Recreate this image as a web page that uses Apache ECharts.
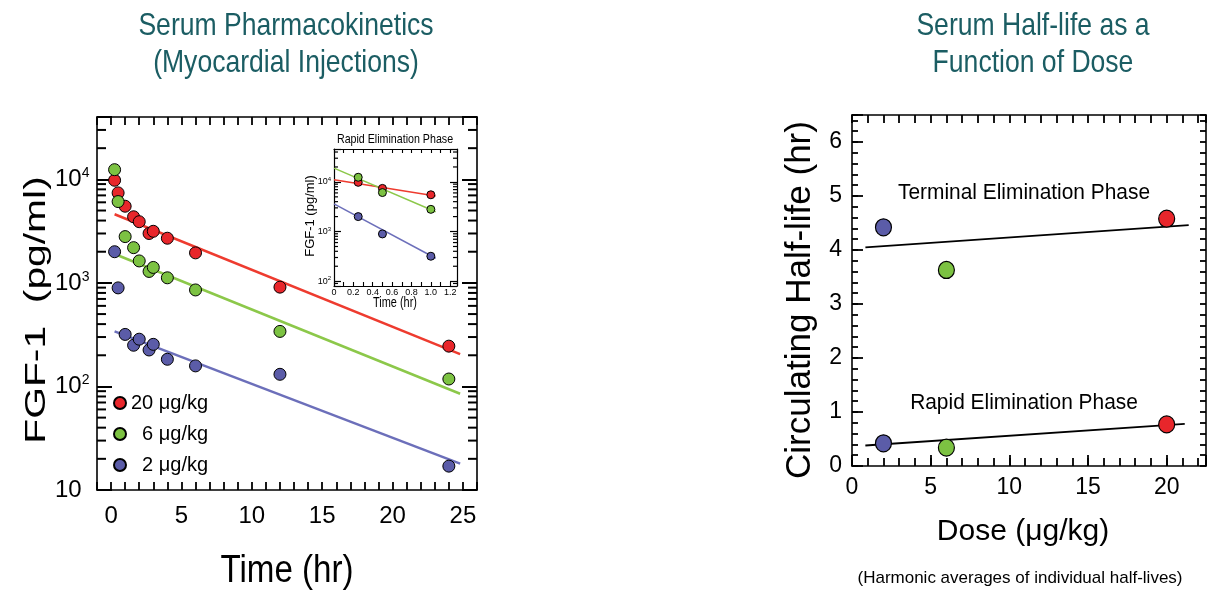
<!DOCTYPE html>
<html>
<head>
<meta charset="utf-8">
<title>FGF-1 serum pharmacokinetics</title>
<script src="https://cdn.jsdelivr.net/npm/echarts@6/dist/echarts.min.js"></script>
<style>
html, body { margin: 0; padding: 0; background: #fff; }
#chart { width: 1217px; height: 590px; }
</style>
</head>
<body>
<div id="chart"></div>
<script>
// sampling times (hr) and serum FGF-1 (pg/ml) for each dose
var times = [0.25, 0.5, 1, 1.6, 2, 2.7, 3, 4, 6, 12, 24];
var fgf20 = [9800, 7400, 5500, 4350, 3900, 3000, 3150, 2700, 1950, 910, 245];
var fgf6 = [12400, 6100, 2800, 2190, 1630, 1290, 1410, 1120, 855, 340, 118];
var fgf2 = [2000, 895, 318, 250, 286, 225, 255, 183, 158, 131, 17];
// terminal phase fits [t, pg/ml]
var fit20 = [[0.25, 4600], [24.8, 205]];
var fit6 = [[0.25, 1900], [24.8, 85]];
var fit2 = [[0.25, 340], [24.8, 18]];
// inset: rapid phase fits, first samples only
var insetCount = 3;
var rapidFit20 = [[0, 11000], [1.05, 5200]];
var rapidFit6 = [[0, 18900], [1.05, 2500]];
var rapidFit2 = [[0, 3600], [1.05, 290]];

// half-life vs dose
var doses = [2, 6, 20];
var terminalHalfLife = [4.42, 3.63, 4.58];
var rapidHalfLife = [0.42, 0.34, 0.77];
var terminalFit = [[0.85, 4.05], [21.4, 4.46]];
var rapidFit = [[0.85, 0.38], [21.15, 0.78]];

var doseNames = ['20 μg/kg', '6 μg/kg', '2 μg/kg'];

var FONT = '"Liberation Sans", Arial, sans-serif';
var TEAL = '#1b5d63';
var RED = '#e8262b', GREEN = '#7cc242', BLUE = '#5b5ca8';
var RED_L = '#ee3b2f', GREEN_L = '#8cc84a', BLUE_L = '#6c6fba';
var doseColors = [BLUE, GREEN, RED]; // for doses 2, 6, 20

function pairs(xs, ys) {
    return xs.map(function (x, i) { return [x, ys[i]]; });
}
// 2..9 x 10^n between min and max (log minor ticks)
function logMinor(min, max) {
    var out = [];
    for (var d = 1; d <= 1e5; d *= 10) {
        for (var m = 2; m <= 9; m++) {
            if (m * d > min && m * d < max) out.push(m * d);
        }
    }
    return out;
}
function isPow10(v) {
    var l = Math.log(v) / Math.LN10;
    return Math.abs(l - Math.round(l)) < 1e-6;
}
function powLabel(v) {
    if (!isPow10(v)) return '';
    var e = Math.round(Math.log(v) / Math.LN10);
    return e === 1 ? '{b|10}' : '{b|10}{s|' + e + '}';
}

var lineBlack = { color: '#000', width: 1.6 };
var tickBlack = { color: '#000', width: 1.8 };

function boxAxis(extra) {
    // plain axis used for the box sides (ticks only)
    var a = {
        type: 'value',
        axisLine: { onZero: false, lineStyle: lineBlack },
        axisTick: { inside: true, length: 8, lineStyle: tickBlack },
        axisLabel: { show: false },
        splitLine: { show: false }
    };
    for (var k in extra) a[k] = extra[k];
    return a;
}

function fitLine(name, xi, yi, data, color, w) {
    return {
        name: name, type: 'line', xAxisIndex: xi, yAxisIndex: yi, data: data,
        symbol: 'none', z: 2, silent: true,
        lineStyle: { color: color, width: w }
    };
}
function dots(name, xi, yi, data, color, size) {
    return {
        name: name, type: 'scatter', xAxisIndex: xi, yAxisIndex: yi, data: data,
        symbolSize: size, z: 3,
        itemStyle: { color: color, borderColor: '#000', borderWidth: 1, opacity: 1 }
    };
}
// log minor ticks drawn as thin rects sitting on a box side
function sideTicks(name, xi, yi, x, values, len, w, dir) {
    return {
        name: name, type: 'scatter', xAxisIndex: xi, yAxisIndex: yi,
        data: values.map(function (v) { return [x, v]; }),
        symbol: 'rect', symbolSize: [len, w], symbolOffset: [dir * len / 2, 0],
        silent: true, clip: false, z: 4,
        itemStyle: { color: '#000', opacity: 1 },
        emphasis: { disabled: true }
    };
}

function gtext(text, x, y, size, opts) {
    opts = opts || {};
    return {
        type: 'text', x: x, y: y,
        rotation: opts.rotation || 0,
        scaleX: opts.scaleX || 1,
        silent: true,
        style: {
            text: text,
            fontSize: size,
            fontFamily: FONT,
            fill: opts.color || '#000',
            align: 'center',
            verticalAlign: 'middle'
        }
    };
}

var chart = echarts.init(document.getElementById('chart'));

var mainMinor = logMinor(10, 40000);
var insetMinor = logMinor(80, 46000);

var option = {
    animation: false,
    backgroundColor: '#fff',
    grid: [
        { left: 97, top: 117, width: 380, height: 373 },
        { left: 334, top: 149, width: 123, height: 137 },
        { left: 852, top: 115, width: 354, height: 351 }
    ],
    legend: {
        data: doseNames,
        orient: 'vertical',
        left: 108,
        top: 388,
        icon: 'circle',
        itemWidth: 12,
        itemHeight: 12,
        itemGap: 11,
        selectedMode: false,
        textStyle: { fontSize: 20, fontFamily: FONT, color: '#000' },
        formatter: function (name) {
            return name.length < 8 ? '\u2007' + name : name;
        }
    },
    xAxis: [
        // main time axis
        boxAxis({
            gridIndex: 0, min: -1, max: 26, interval: 1, position: 'bottom',
            axisLabel: {
                show: true, margin: 14, fontSize: 24, fontFamily: FONT, color: '#000',
                formatter: function (v) { return v % 5 === 0 ? String(v) : ''; }
            }
        }),
        boxAxis({ gridIndex: 0, min: -1, max: 26, interval: 1, position: 'top' }),
        // inset time axis
        boxAxis({
            gridIndex: 1, min: 0, max: 1.27, interval: 0.1, position: 'bottom',
            axisLine: { onZero: false, lineStyle: { color: '#000', width: 1.2 } },
            axisTick: { inside: true, length: 4, lineStyle: { color: '#000', width: 1.1 } },
            axisLabel: {
                show: true, margin: 2, fontSize: 9, fontFamily: FONT, color: '#000',
                formatter: function (v) {
                    var r = Math.round(v * 10);
                    if (Math.abs(v * 10 - r) > 1e-6 || r % 2) return '';
                    return r === 0 ? '0' : (r / 10).toFixed(1);
                }
            }
        }),
        boxAxis({
            gridIndex: 1, min: 0, max: 1.27, interval: 0.1, position: 'top',
            axisLine: { onZero: false, lineStyle: { color: '#000', width: 1.2 } },
            axisTick: { inside: true, length: 4, lineStyle: { color: '#000', width: 1.1 } }
        }),
        // dose axis
        boxAxis({
            gridIndex: 2, min: 0, max: 22.5, interval: 5, position: 'bottom',
            axisTick: { inside: true, length: 11, lineStyle: tickBlack },
            axisLabel: {
                show: true, margin: 10, fontSize: 23, fontFamily: FONT, color: '#000',
                formatter: function (v) { return v % 5 === 0 ? String(v) : ''; }
            }
        }),
        boxAxis({
            gridIndex: 2, min: 0, max: 22.5, interval: 1, position: 'bottom',
            axisLine: { show: false }
        }),
        boxAxis({ gridIndex: 2, min: 0, max: 22.5, interval: 1, position: 'top' })
    ],
    yAxis: [
        // main concentration axis (log)
        boxAxis({
            gridIndex: 0, type: 'log', logBase: 10, min: 10, max: 40000, position: 'left',
            axisTick: { inside: true, length: 15, lineStyle: { color: '#000', width: 2 } },
            axisLabel: {
                show: true, margin: 42, align: 'left', color: '#000',
                formatter: powLabel,
                rich: {
                    b: { fontSize: 24, fontFamily: FONT, color: '#000' },
                    s: { fontSize: 14, fontFamily: FONT, color: '#000', padding: [0, 0, 12, 0] }
                }
            }
        }),
        boxAxis({
            gridIndex: 0, type: 'log', logBase: 10, min: 10, max: 40000, position: 'right',
            axisTick: { inside: true, length: 15, lineStyle: { color: '#000', width: 2 } }
        }),
        // inset concentration axis (log)
        boxAxis({
            gridIndex: 1, type: 'log', logBase: 10, min: 80, max: 46000, position: 'left',
            axisLine: { onZero: false, lineStyle: { color: '#000', width: 1.2 } },
            axisTick: { inside: true, length: 7, lineStyle: { color: '#000', width: 1.2 } },
            axisLabel: {
                show: true, margin: 3, color: '#000',
                formatter: powLabel,
                rich: {
                    b: { fontSize: 9, fontFamily: FONT, color: '#000' },
                    s: { fontSize: 6, fontFamily: FONT, color: '#000', padding: [0, 0, 5, 0] }
                }
            }
        }),
        boxAxis({
            gridIndex: 1, type: 'log', logBase: 10, min: 80, max: 46000, position: 'right',
            axisLine: { onZero: false, lineStyle: { color: '#000', width: 1.2 } },
            axisTick: { inside: true, length: 7, lineStyle: { color: '#000', width: 1.2 } }
        }),
        // half-life axis
        boxAxis({
            gridIndex: 2, min: 0, max: 6.5, interval: 1, position: 'left',
            axisTick: { inside: true, length: 11, lineStyle: tickBlack },
            axisLabel: {
                show: true, margin: 10, fontSize: 23, fontFamily: FONT, color: '#000',
                formatter: function (v) { return Math.abs(v - Math.round(v)) < 1e-6 ? String(Math.round(v)) : ''; }
            }
        }),
        boxAxis({
            gridIndex: 2, min: 0, max: 6.5, interval: 0.2, position: 'left',
            axisLine: { show: false },
            axisTick: { inside: true, length: 6, lineStyle: tickBlack }
        }),
        boxAxis({
            gridIndex: 2, min: 0, max: 6.5, interval: 0.2, position: 'right',
            axisTick: { inside: true, length: 6, lineStyle: tickBlack }
        })
    ],
    graphic: [
        gtext('Serum Pharmacokinetics', 286, 26, 32, { color: TEAL, scaleX: 0.83 }),
        gtext('(Myocardial Injections)', 286, 63, 32, { color: TEAL, scaleX: 0.83 }),
        gtext('Serum Half-life as a', 1033, 26, 32, { color: TEAL, scaleX: 0.83 }),
        gtext('Function of Dose', 1033, 63, 32, { color: TEAL, scaleX: 0.83 }),
        gtext('FGF-1  (pg/ml)', 37, 310, 30, { rotation: Math.PI / 2, scaleX: 1.36 }),
        gtext('Time (hr)', 287, 571, 39, { scaleX: 0.85 }),
        gtext('Rapid Elimination Phase', 395, 139, 13, { scaleX: 0.82 }),
        gtext('FGF-1 (pg/ml)', 310, 216, 13, { rotation: Math.PI / 2 }),
        gtext('Time (hr)', 395, 303, 14, { scaleX: 0.78 }),
        gtext('Circulating Half-life (hr)', 800, 300, 35, { rotation: Math.PI / 2 }),
        gtext('Dose (μg/kg)', 1023, 532, 30),
        gtext('(Harmonic averages of individual half-lives)', 1020, 578, 17),
        gtext('Terminal Elimination Phase', 1024, 193, 22, { scaleX: 0.95 }),
        gtext('Rapid Elimination Phase', 1024, 403, 22, { scaleX: 0.95 })
    ],
    series: [
        fitLine('fit20', 0, 0, fit20, RED_L, 2.5),
        fitLine('fit6', 0, 0, fit6, GREEN_L, 2.5),
        fitLine('fit2', 0, 0, fit2, BLUE_L, 2.5),
        dots(doseNames[0], 0, 0, pairs(times, fgf20), RED, 12),
        dots(doseNames[1], 0, 0, pairs(times, fgf6), GREEN, 12),
        dots(doseNames[2], 0, 0, pairs(times, fgf2), BLUE, 12),
        sideTicks('minorL', 0, 0, -1, mainMinor, 9, 2, 1),
        sideTicks('minorR', 0, 0, 26, mainMinor, 9, 2, -1),

        fitLine('rfit20', 2, 2, rapidFit20, RED_L, 1.5),
        fitLine('rfit6', 2, 2, rapidFit6, GREEN_L, 1.5),
        fitLine('rfit2', 2, 2, rapidFit2, BLUE_L, 1.5),
        dots(doseNames[0], 2, 2, pairs(times.slice(0, insetCount), fgf20), RED, 8),
        dots(doseNames[1], 2, 2, pairs(times.slice(0, insetCount), fgf6), GREEN, 8),
        dots(doseNames[2], 2, 2, pairs(times.slice(0, insetCount), fgf2), BLUE, 8),
        sideTicks('insetMinorL', 2, 2, 0, insetMinor, 4, 1.2, 1),
        sideTicks('insetMinorR', 2, 2, 1.27, insetMinor, 4, 1.2, -1),

        fitLine('terminalFit', 4, 4, terminalFit, '#000', 1.8),
        fitLine('rapidFit', 4, 4, rapidFit, '#000', 1.8),
        {
            name: 'terminal', type: 'scatter', xAxisIndex: 4, yAxisIndex: 4, z: 3,
            data: pairs(doses, terminalHalfLife), symbolSize: [16, 17],
            itemStyle: { color: function (p) { return doseColors[p.dataIndex]; }, borderColor: '#000', borderWidth: 1.2, opacity: 1 }
        },
        {
            name: 'rapid', type: 'scatter', xAxisIndex: 4, yAxisIndex: 4, z: 3,
            data: pairs(doses, rapidHalfLife), symbolSize: [16, 17],
            itemStyle: { color: function (p) { return doseColors[p.dataIndex]; }, borderColor: '#000', borderWidth: 1.2, opacity: 1 }
        }
    ]
};

chart.setOption(option);
</script>
</body>
</html>
